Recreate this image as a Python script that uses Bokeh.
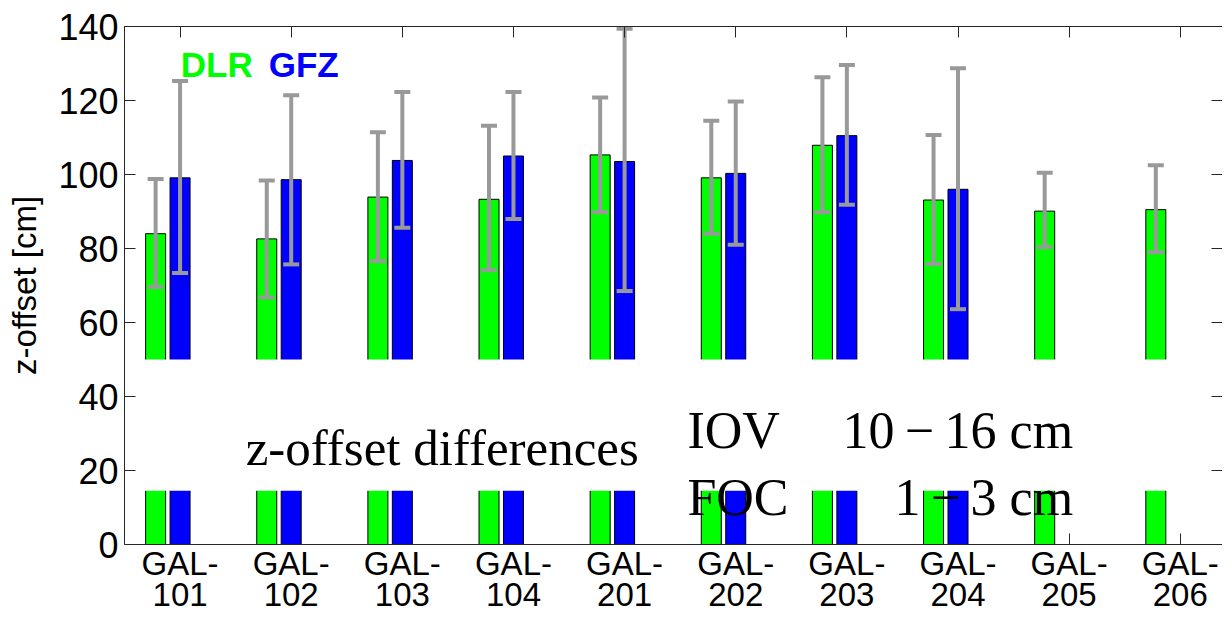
from bokeh.plotting import figure
from bokeh.models import ColumnDataSource, Range1d, LinearAxis, FixedTicker, Label
from bokeh.embed import file_html
from bokeh.resources import INLINE

# ---------------- data ----------------
satellites = ["GAL-\n101", "GAL-\n102", "GAL-\n103", "GAL-\n104", "GAL-\n201",
              "GAL-\n202", "GAL-\n203", "GAL-\n204", "GAL-\n205", "GAL-\n206"]
positions = [1, 2, 3, 4, 5, 6, 7, 8, 9, 10]

dlr = [84.0, 82.6, 93.9, 93.3, 105.3, 99.1, 107.9, 93.1, 90.1, 90.5]
dlr_lo = [69.6, 66.8, 76.6, 74.1, 89.8, 84.0, 89.8, 75.8, 80.4, 79.0]
dlr_hi = [98.8, 98.4, 111.4, 113.2, 120.8, 114.5, 126.3, 110.7, 100.5, 102.5]

gfz_positions = [1, 2, 3, 4, 5, 6, 7, 8]
gfz = [99.1, 98.6, 103.8, 105.0, 103.5, 100.3, 110.5, 96.0]
gfz_lo = [73.4, 75.7, 85.6, 88.0, 68.5, 81.0, 91.8, 63.6]
gfz_hi = [125.3, 121.4, 122.3, 122.3, 139.4, 119.7, 129.6, 128.7]

y_ticks = [0, 20, 40, 60, 80, 100, 120, 140]
break_low, break_high = 14.5, 50.0

# ---------------- style ----------------
DLR_OFFSET = -0.22
BAR_W = 0.18
X0, X1 = 0.5, 10.38
SANS = "Liberation Sans"
SERIF = "Liberation Serif"
AXC = "#262626"
ERRC = "#999999"

p = figure(width=1222, height=615, x_range=Range1d(X0, X1), y_range=Range1d(0, 140),
           output_backend="svg", toolbar_location=None, x_axis_location=None,
           min_border_left=124, min_border_top=26, min_border_bottom=66,
           min_border_right=0)
p.outline_line_color = None
p.grid.visible = False
p.background_fill_color = "white"
p.border_fill_color = "white"

src_d = ColumnDataSource(dict(x=[v + DLR_OFFSET for v in positions], top=dlr,
                              lo=dlr_lo, hi=dlr_hi))
src_g = ColumnDataSource(dict(x=gfz_positions, top=gfz, lo=gfz_lo, hi=gfz_hi))

for s, col in ((src_d, "#00ff00"), (src_g, "#0000ff")):
    p.vbar(x="x", top="top", bottom=0, width=BAR_W, source=s,
           fill_color=col, line_color="black", line_width=1)

for s in (src_d, src_g):
    p.segment(x0="x", y0="lo", x1="x", y1="hi", source=s,
              line_color=ERRC, line_width=4)
    p.scatter(x="x", y="lo", source=s, marker="dash", size=16,
              line_color=ERRC, line_width=4)
    p.scatter(x="x", y="hi", source=s, marker="dash", size=16,
              line_color=ERRC, line_width=4)

# axis break mask
p.quad(left=[X0], right=[X1], bottom=[break_low], top=[break_high],
       fill_color="white", line_color=None)

def bare_axis(ticks, line_color):
    ax = LinearAxis(ticker=FixedTicker(ticks=ticks), major_tick_in=11,
                    major_tick_out=0, major_label_text_font_size="0px",
                    major_label_text_color=None, major_label_standoff=0,
                    minor_tick_line_color=None, axis_line_color=line_color,
                    major_tick_line_color=AXC)
    return ax

# bottom: ticks-only axis (drawn beneath bars), then labelled axis
tick_ax = bare_axis(positions, None)
tick_ax.level = "underlay"
p.add_layout(tick_ax, "below")

xa = LinearAxis(ticker=FixedTicker(ticks=positions),
                major_label_overrides={pos: lab for pos, lab in zip(positions, satellites)},
                major_tick_in=0, major_tick_out=0, minor_tick_line_color=None,
                axis_line_color=AXC, major_tick_line_color=None)
xa.major_label_text_font = SANS
xa.major_label_text_font_size = "33px"
xa.major_label_text_color = "black"
xa.major_label_text_line_height = 0.84
xa.major_label_standoff = 0
p.add_layout(xa, "below")

ya = p.yaxis[0]
ya.ticker = FixedTicker(ticks=y_ticks)
ya.major_label_text_font = SANS
ya.major_label_text_font_size = "36px"
ya.major_label_text_color = "black"
ya.major_label_standoff = 6
ya.major_tick_in = 11
ya.major_tick_out = 0
ya.minor_tick_line_color = None
ya.axis_line_color = AXC
ya.major_tick_line_color = AXC
ya.axis_label = "z-offset [cm]"
ya.axis_label_text_font = SANS
ya.axis_label_text_font_size = "33px"
ya.axis_label_text_font_style = "normal"
ya.axis_label_text_color = "black"
ya.axis_label_standoff = 12

p.add_layout(bare_axis(positions, AXC), "above")
p.add_layout(bare_axis(y_ticks, None), "right")

# texts
def lab(x, y, text, color="black", font=SANS, size="35px", style="normal", align="left"):
    p.add_layout(Label(x=x, y=y, text=text, text_color=color, text_font=font,
                       text_font_size=size, text_font_style=style,
                       text_align=align, text_baseline="alphabetic"))

lab(1.006, 129.6, "DLR", color="#00ff00", style="bold")
lab(1.798, 129.6, "GFZ", color="#0000ff", style="bold")
lab(1.59, 26.0, "z-offset differences", font=SERIF, size="51px")
lab(5.565, 30.8, "IOV", font=SERIF, size="52px")
lab(9.036, 30.8, "10\u2009\u2212\u200916 cm", font=SERIF, size="52px", align="right")
lab(5.565, 12.6, "FOC", font=SERIF, size="52px")
lab(9.036, 12.6, "1\u2009\u2212\u20093 cm", font=SERIF, size="52px", align="right")

open("out.html", "w").write(file_html(p, INLINE))
